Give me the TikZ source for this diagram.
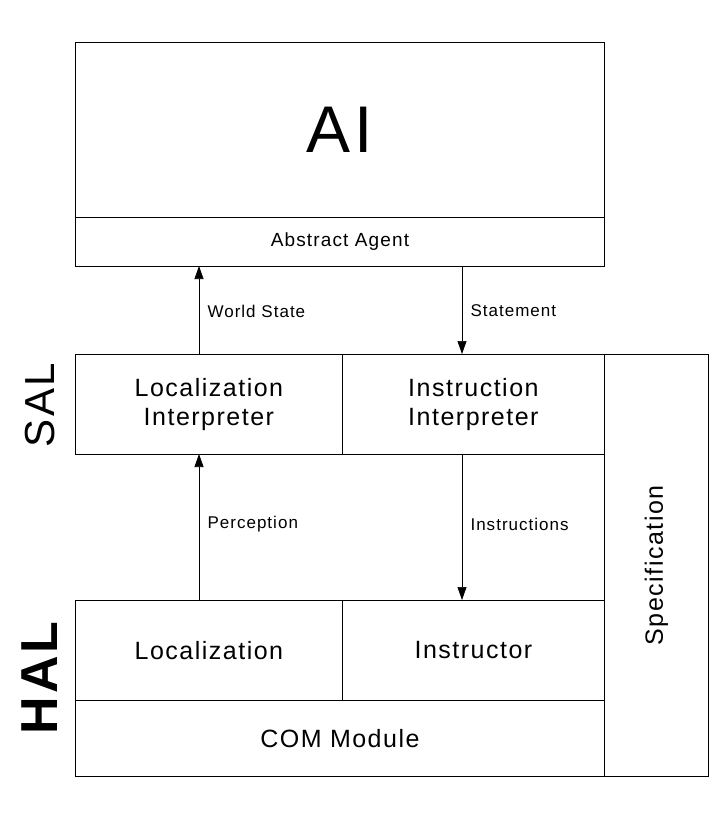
\documentclass[tikz,border=0pt]{standalone}
\usepackage{fontspec}
\setmainfont{Liberation Sans}[LetterSpace=6]
\usetikzlibrary{arrows.meta}
\begin{document}
\begin{tikzpicture}[x=1pt,y=-1pt,
  box/.style={draw,line width=0.8pt,anchor=north west,inner sep=0pt,align=center},
  big/.style={font=\fontsize{25}{29}\selectfont},
  arr/.style={-{Triangle[length=13pt,width=9pt]},line width=0.7pt},
  lbl/.style={font=\fontsize{17}{19}\selectfont,anchor=west}]
\useasboundingbox (0,0) rectangle (712,813);
\node[box,minimum width=529pt,minimum height=175pt,font=\fontsize{66}{70}\selectfont] (ai) at (75,42) {AI};
\node[box,minimum width=529pt,minimum height=49pt,font=\fontsize{19}{21}\selectfont] (aa) at (75,217) {Abstract Agent};
\node[box,big,minimum width=267pt,minimum height=100pt] (li) at (75,354) {Localization\\Interpreter};
\node[box,big,minimum width=262pt,minimum height=100pt] (ii) at (342,354) {Instruction\\Interpreter};
\node[box,minimum width=104pt,minimum height=422pt] (spec) at (604,354) {};
\node[rotate=90,big] at (spec.center) {Specification};
\node[box,big,minimum width=267pt,minimum height=100pt] (loc) at (75,600) {Localization};
\node[box,big,minimum width=262pt,minimum height=100pt] (ins) at (342,600) {Instructor};
\node[box,big,minimum width=529pt,minimum height=76pt] (com) at (75,700) {COM Module};
\node[rotate=90,font=\fontsize{42}{46}\selectfont] (sal) at (40,405) {SAL};
\node[rotate=90,font=\bfseries\fontsize{52}{56}\selectfont] (hal) at (40,678) {HAL};
\coordinate (a1) at (199,354); \coordinate (a1e) at (199,266);
\coordinate (a2) at (462,266); \coordinate (a2e) at (462,354);
\coordinate (a3) at (199,600); \coordinate (a3e) at (199,454);
\coordinate (a4) at (462,454); \coordinate (a4e) at (462,600);
\draw[arr] (a1) -- (a1e);
\draw[arr] (a2) -- (a2e);
\draw[arr] (a3) -- (a3e);
\draw[arr] (a4) -- (a4e);
\node[lbl] (ws) at (204,311) {World State};
\node[lbl] (st) at (467,311) {Statement};
\node[lbl] (pe) at (204,524) {Perception};
\node[lbl] (in) at (467,524) {Instructions};
\end{tikzpicture}
\end{document}
